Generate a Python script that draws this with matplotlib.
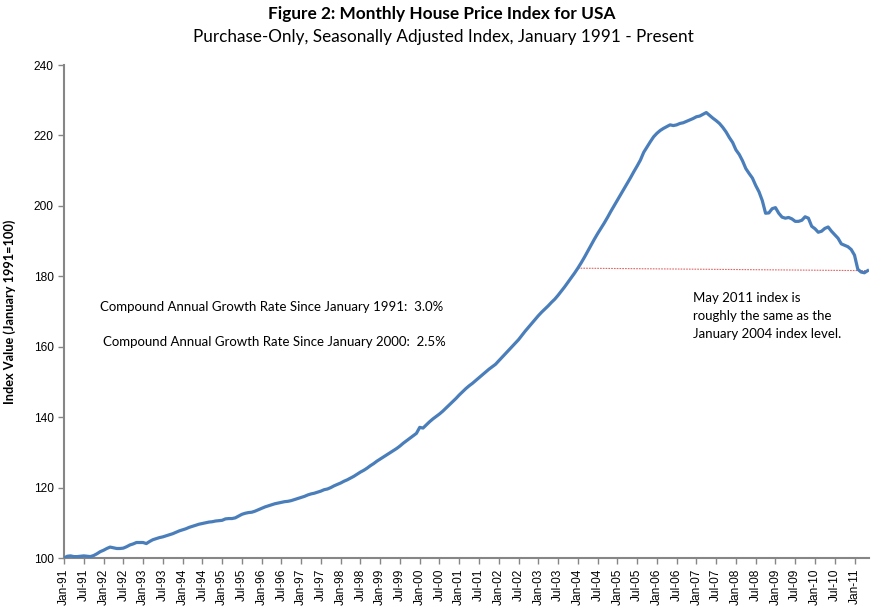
import matplotlib
matplotlib.use("Agg")
import matplotlib.pyplot as plt
import numpy as np

# monthly index values, Jan 1991 .. May 2011
y1991 = [100.0, 100.5, 100.6, 100.4, 100.4, 100.5, 100.6, 100.5, 100.4, 100.7, 101.2, 101.8]
y1992 = [102.2, 102.7, 103.1, 102.9, 102.7, 102.7, 102.8, 103.2, 103.7, 104.0, 104.4, 104.4]
y1993 = [104.4, 104.1, 104.7, 105.2, 105.5, 105.8, 106.0, 106.3, 106.6, 106.9, 107.3, 107.7]
y1994 = [108.0, 108.3, 108.7, 109.0, 109.3, 109.6, 109.8, 110.0, 110.2, 110.3, 110.5, 110.6]
y1995 = [110.7, 111.1, 111.2, 111.2, 111.4, 111.9, 112.4, 112.7, 112.9, 113.0, 113.3, 113.7]
y1996 = [114.1, 114.5, 114.8, 115.1, 115.4, 115.6, 115.8, 116.0, 116.1, 116.3, 116.6, 116.9]
y1997 = [117.2, 117.5, 117.9, 118.2, 118.4, 118.7, 119.0, 119.4, 119.6, 120.0, 120.5, 120.9]
y1998 = [121.3, 121.8, 122.2, 122.7, 123.2, 123.8, 124.4, 124.9, 125.5, 126.2, 126.8, 127.5]
y1999 = [128.1, 128.7, 129.3, 129.9, 130.5, 131.1, 131.8, 132.6, 133.3, 134.0, 134.7, 135.4]
y2000 = [137.1, 136.9, 137.8, 138.7, 139.5, 140.2, 140.9, 141.7, 142.6, 143.5, 144.4, 145.3]
y2001 = [146.3, 147.2, 148.1, 148.9, 149.6, 150.4, 151.2, 152.0, 152.8, 153.6, 154.3, 155.0]
y2002 = [156.0, 157.0, 158.0, 159.0, 160.0, 161.0, 162.0, 163.2, 164.4, 165.5, 166.6, 167.7]
y2003 = [168.8, 169.8, 170.7, 171.6, 172.6, 173.5, 174.6, 175.8, 177.0, 178.3, 179.6, 180.9]
y2004 = [182.3, 183.8, 185.4, 187.1, 188.8, 190.5, 192.1, 193.6, 195.1, 196.7, 198.4, 200.0]
y2005 = [201.6, 203.2, 204.8, 206.4, 208.0, 209.7, 211.3, 213.0, 215.2, 216.7, 218.2, 219.6]
y2006 = [220.6, 221.4, 222.0, 222.5, 223.0, 222.8, 223.0, 223.4, 223.6, 224.0, 224.4, 224.8]
y2007 = [225.3, 225.5, 226.0, 226.5, 225.7, 224.9, 224.2, 223.4, 222.3, 221.0, 219.4, 218.0]
y2008 = [215.9, 214.6, 212.8, 210.6, 209.2, 207.9, 205.8, 204.0, 201.5, 197.9, 198.0, 199.2]
y2009 = [199.5, 197.9, 196.8, 196.5, 196.7, 196.3, 195.6, 195.6, 195.9, 196.9, 196.5, 194.2]
y2010 = [193.5, 192.5, 192.8, 193.6, 194.0, 192.8, 191.8, 190.8, 189.2, 188.8, 188.4, 187.6]
y2011 = [186.0, 182.0, 181.2, 181.0, 181.6]

hpi = (y1991 + y1992 + y1993 + y1994 + y1995 + y1996 + y1997 + y1998 + y1999 + y2000
       + y2001 + y2002 + y2003 + y2004 + y2005 + y2006 + y2007 + y2008 + y2009 + y2010 + y2011)

month_names = ["Jan", "Feb", "Mar", "Apr", "May", "Jun", "Jul", "Aug", "Sep", "Oct", "Nov", "Dec"]
labels = []
for yr in range(1991, 2012):
    for m in month_names:
        labels.append(m + "-" + str(yr)[2:])
labels = labels[:len(hpi)]

yticks = [100, 120, 140, 160, 180, 200, 220, 240]

x = np.arange(len(hpi))
i_2004 = labels.index("Jan-04")
i_last = len(hpi) - 1

fig = plt.figure(figsize=(8.72, 6.16), dpi=100)
ax = fig.add_axes([64/872, 1-558/616, (869-64)/872, (558-65)/616])

ax.plot(x, hpi, color="#4A7EBB", lw=2.3, solid_joinstyle="round", zorder=3)
ax.plot([i_2004, i_last], [hpi[i_2004], hpi[i_last]], color="#E06666", lw=0.8,
        ls=(0, (1.5, 1)), zorder=2)

ax.set_xlim(0, len(hpi) - 0.6)
ax.set_ylim(100, 240)
ax.set_yticks(yticks)
ax.set_xticks(x[::6])
ax.set_xticklabels(labels[::6], rotation=90)

for s in ["top", "right"]:
    ax.spines[s].set_visible(False)
for s in ["left", "bottom"]:
    ax.spines[s].set_color("#868686")
    ax.spines[s].set_linewidth(1.5)
ax.tick_params(axis="both", colors="#868686", labelcolor="black", labelsize=8.6, length=4, width=1)
for t in ax.get_xticklabels() + ax.get_yticklabels():
    t.set_fontfamily("Liberation Sans")

ax.set_ylabel("Index Value (January 1991=100)", fontsize=9.2, fontweight="bold",
              family="Lato", labelpad=13)

fig.text(442/872, 1-14/616, "Figure 2: Monthly House Price Index for USA", ha="center", va="center",
         fontsize=12.4, fontweight="bold", family="Lato")
fig.text(443/872, 1-37/616, "Purchase-Only, Seasonally Adjusted Index, January 1991 - Present",
         ha="center", va="center", fontsize=12.3, family="Lato")

fig.text(100/872, 1-307/616, "Compound Annual Growth Rate Since January 1991:  3.0%",
         ha="left", va="center", fontsize=9.5, family="Lato")
fig.text(103/872, 1-342/616, "Compound Annual Growth Rate Since January 2000:  2.5%",
         ha="left", va="center", fontsize=9.5, family="Lato")
fig.text(693/872, 1-316/616, "May 2011 index is\nroughly the same as the\nJanuary 2004 index level.",
         ha="left", va="center", fontsize=9.5, family="Lato", linespacing=1.6)

fig.savefig("out.png", dpi=100)
